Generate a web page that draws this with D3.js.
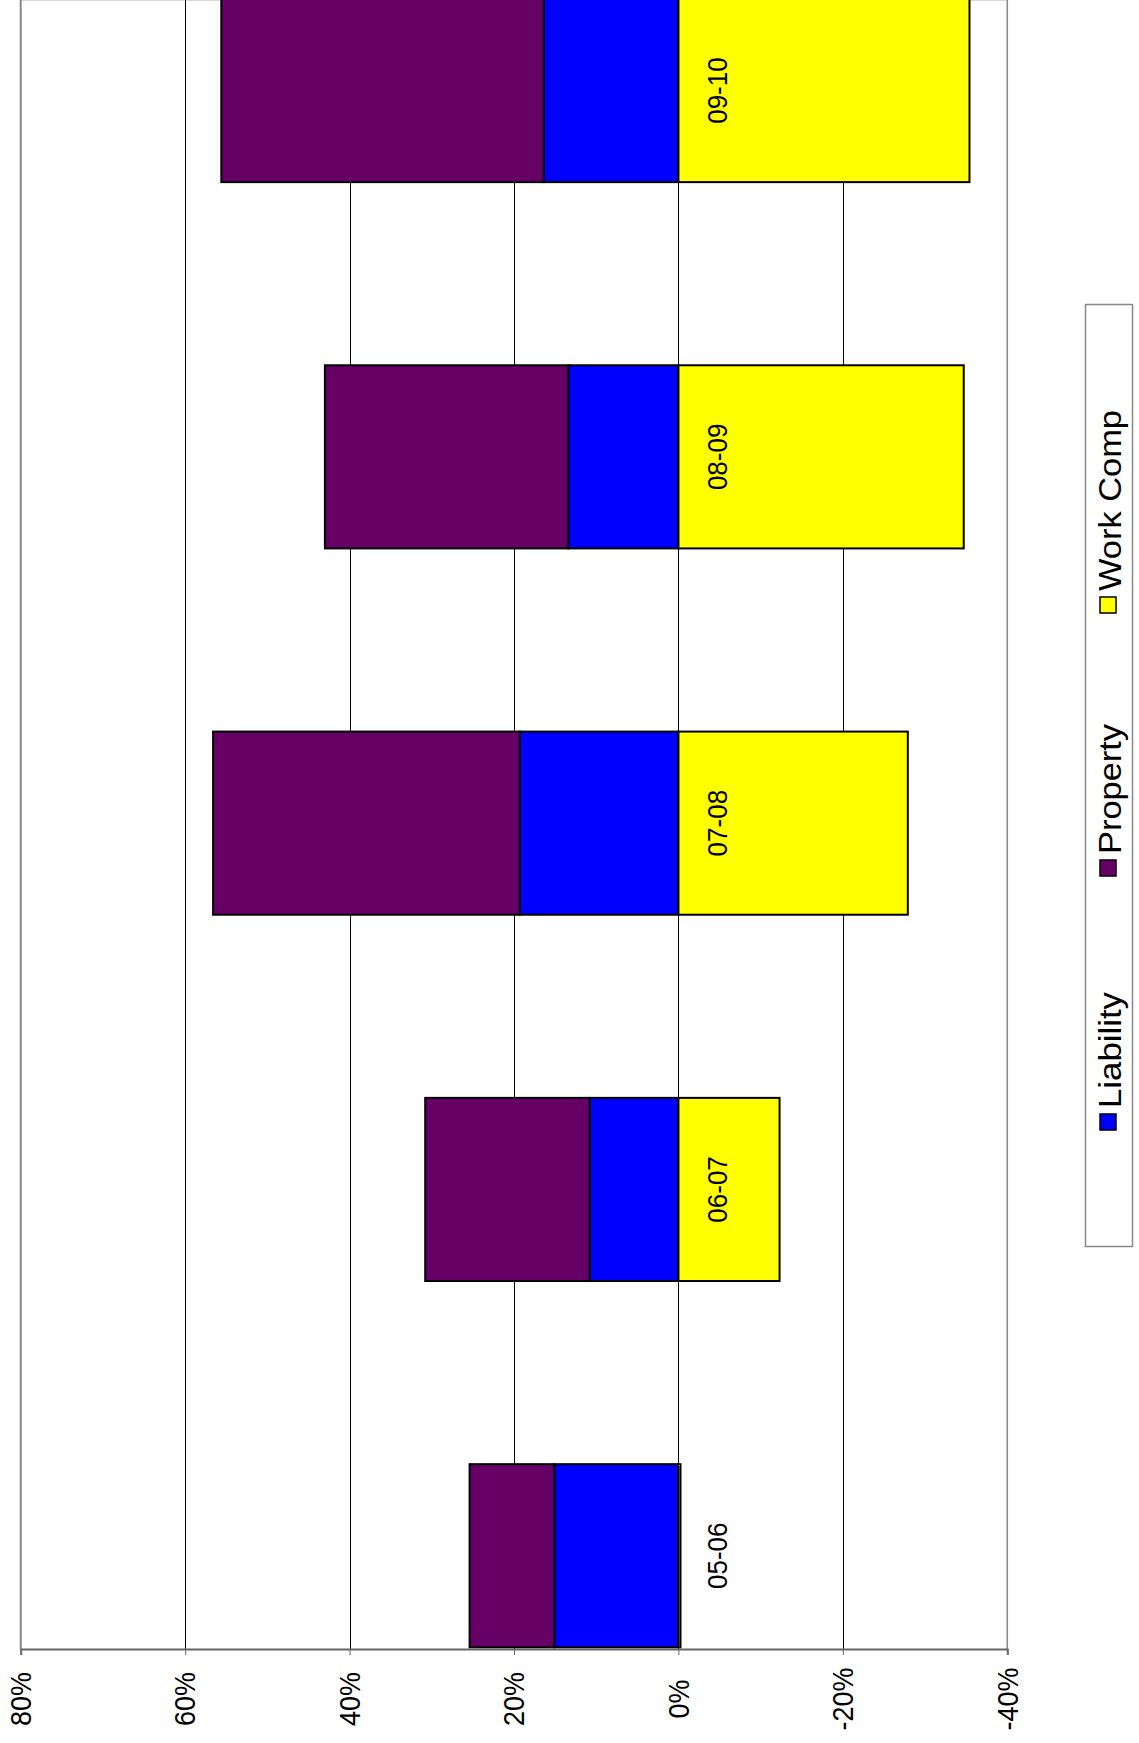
<!DOCTYPE html>
<html>
<head>
<meta charset="utf-8">
<script src="https://cdn.jsdelivr.net/npm/d3@7"></script>
<style>
  body { margin: 0; background: #fff; }
  text { font-family: "Liberation Sans", Arial, sans-serif; fill: #000; }
</style>
</head>
<body>
<script>
// Stacked column chart, drawn turned on its side (value axis runs across the page)

const categories = ['05-06', '06-07', '07-08', '08-09', '09-10'];
const liability = [15.1, 10.8, 19.3, 13.4, 16.4];
const property = [10.3, 20.0, 37.3, 29.6, 39.2];
const workComp = [-0.25, -12.3, -27.9, -34.7, -35.4];
const valueTicks = [80, 60, 40, 20, 0, -20, -40];
const seriesNames = ['Liability', 'Property', 'Work Comp'];
const seriesColors = ['#0000ff', '#660066', '#ffff00'];

const width = 1139;
const height = 1743;
const plot = { left: 20.7, right: 1007.3, top: 0, bottom: 1649 };

const svg = d3.select('body').append('svg')
    .attr('width', width)
    .attr('height', height);

svg.append('rect')
    .attr('width', width)
    .attr('height', height)
    .attr('fill', '#fff');

// scales
const x = d3.scaleLinear()
    .domain([-40, 80])
    .range([plot.right, plot.left]);

const y = d3.scaleBand()
    .domain(categories.slice().reverse())
    .range([-92.6, 1738.9])
    .paddingInner(0.5)
    .paddingOuter(0.25);

const color = d3.scaleOrdinal(seriesNames, seriesColors);

// rows for the stack
const rows = categories.map((c, i) => ({
    cat: c,
    'Liability': liability[i],
    'Property': property[i],
    'Work Comp': workComp[i]
}));

const stacked = d3.stack()
    .keys(seriesNames)
    .offset(d3.stackOffsetDiverging)(rows);

// plot border
svg.append('rect')
    .attr('x', plot.left)
    .attr('y', plot.top + 0.5)
    .attr('width', plot.right - plot.left)
    .attr('height', plot.bottom - plot.top)
    .attr('fill', 'none')
    .attr('stroke', '#d8d8d8')
    .attr('stroke-width', 1);

// gridlines
svg.append('g')
    .attr('class', 'grid')
    .selectAll('line')
    .data(valueTicks.filter(v => v !== 80 && v !== -40))
    .enter().append('line')
    .attr('x1', d => Math.round(x(d)) + 0.5)
    .attr('x2', d => Math.round(x(d)) + 0.5)
    .attr('y1', plot.top)
    .attr('y2', plot.bottom)
    .attr('stroke', '#000')
    .attr('stroke-width', 1);

// side borders
svg.append('line')
    .attr('x1', plot.left).attr('x2', plot.left)
    .attr('y1', plot.top).attr('y2', plot.bottom)
    .attr('stroke', '#888').attr('stroke-width', 2);
svg.append('line')
    .attr('x1', plot.right).attr('x2', plot.right)
    .attr('y1', plot.top).attr('y2', plot.bottom)
    .attr('stroke', '#888').attr('stroke-width', 1.5);

// bars
svg.append('g')
    .attr('class', 'bars')
    .selectAll('g')
    .data(stacked)
    .enter().append('g')
    .attr('fill', d => color(d.key))
    .selectAll('rect')
    .data(d => d)
    .enter().append('rect')
    .attr('x', d => x(Math.max(d[0], d[1])))
    .attr('y', d => y(d.data.cat))
    .attr('width', d => Math.abs(x(d[0]) - x(d[1])))
    .attr('height', y.bandwidth())
    .attr('stroke', '#000')
    .attr('stroke-width', 2);

// value axis along the bottom
const axis = svg.append('g')
    .attr('transform', 'translate(0,' + plot.bottom + ')')
    .call(d3.axisBottom(x).tickValues(valueTicks).tickSize(6).tickFormat(d => d + '%'));

axis.select('.domain').attr('stroke', '#666').attr('stroke-width', 2);
axis.selectAll('.tick line').attr('stroke', '#666').attr('stroke-width', 1);
axis.selectAll('.tick text')
    .attr('y', 0)
    .attr('dy', null)
    .attr('font-size', 27)
    .attr('text-anchor', 'middle')
    .attr('dominant-baseline', 'central')
    .attr('transform', 'translate(0,50) rotate(-90) scale(1,1.08)')
    .style('font-family', '"Liberation Sans", Arial, sans-serif')
    .attr('fill', '#000');

// category labels beside the zero line
svg.append('g')
    .attr('class', 'cat-labels')
    .selectAll('text')
    .data(categories)
    .enter().append('text')
    .attr('transform', d => 'translate(' + (x(0) + 39.5) + ',' + (y(d) + y.bandwidth() / 2) + ') rotate(-90) scale(1,1.06)')
    .attr('text-anchor', 'middle')
    .attr('dominant-baseline', 'central')
    .attr('font-size', 26)
    .text(d => d);

// legend
const legend = svg.append('g').attr('class', 'legend');
legend.append('rect')
    .attr('x', 1085.5)
    .attr('y', 304.5)
    .attr('width', 47)
    .attr('height', 942)
    .attr('fill', '#fff')
    .attr('stroke', '#888')
    .attr('stroke-width', 1.5);

const legendY = [1122, 868, 605];
const legendTextLen = [116, 130, 181];

const item = legend.selectAll('g.item')
    .data(seriesNames)
    .enter().append('g')
    .attr('class', 'item');

item.append('rect')
    .attr('x', 1100)
    .attr('y', (d, i) => legendY[i] - 8)
    .attr('width', 16)
    .attr('height', 16)
    .attr('fill', d => color(d))
    .attr('stroke', '#000')
    .attr('stroke-width', 1.5);

item.append('text')
    .attr('transform', (d, i) => 'translate(1110,' + (legendY[i] - 14) + ') rotate(-90)')
    .attr('text-anchor', 'start')
    .attr('dominant-baseline', 'central')
    .attr('font-size', 32)
    .attr('textLength', (d, i) => legendTextLen[i])
    .attr('lengthAdjust', 'spacingAndGlyphs')
    .text(d => d);
</script>
</body>
</html>
